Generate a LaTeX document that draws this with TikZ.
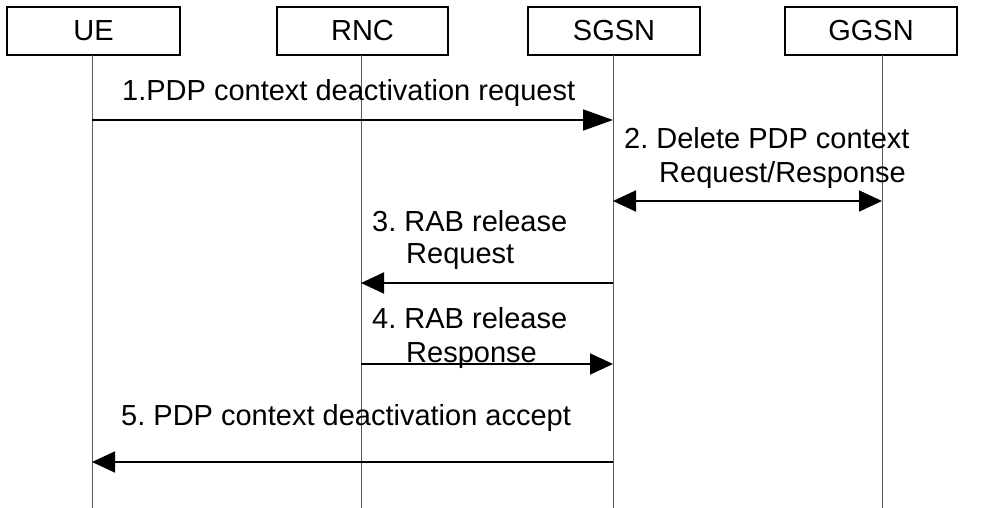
\documentclass[tikz,border=0pt]{standalone}
\usepackage{fontspec}
\setmainfont{Liberation Sans}
\usetikzlibrary{arrows.meta}
\frenchspacing
\begin{document}
\begin{tikzpicture}[x=1pt,y=-1pt,
  ent/.style={draw,line width=1.3pt,minimum height=48pt,inner sep=0pt,font=\fontsize{29}{34}\selectfont},
  life/.style={draw=black!65,line width=0.9pt},
  msg/.style={line width=1.8pt,-{Triangle[length=23pt,width=21pt]}},
  msgb/.style={line width=1.8pt,{Triangle[length=23pt,width=21pt]}-{Triangle[length=23pt,width=21pt]}},
  lbl/.style={anchor=base west,inner sep=0pt,font=\fontsize{29}{34}\selectfont}]
\useasboundingbox (0,0) rectangle (1005,508);
% entities
\node[ent,minimum width=173pt] (ue) at (93.5,31) {UE};
\node[ent,minimum width=171pt] (rnc) at (362.5,31) {RNC};
\node[ent,minimum width=172pt] (sgsn) at (614,31) {SGSN};
\node[ent,minimum width=172pt] (ggsn) at (871,31) {GGSN};
% lifelines
\coordinate (ueT) at (92,55);   \coordinate (ueB) at (92,508);
\coordinate (rncT) at (361,55); \coordinate (rncB) at (361,508);
\coordinate (sgT) at (613,55);  \coordinate (sgB) at (613,508);
\coordinate (ggT) at (882,55);  \coordinate (ggB) at (882,508);
\draw[life] (ueT) -- (ueB);
\draw[life] (rncT) -- (rncB);
\draw[life] (sgT) -- (sgB);
\draw[life] (ggT) -- (ggB);
% message points
\coordinate (m1a) at (92,120);  \coordinate (m1b) at (613,120);
\coordinate (m2a) at (613,201); \coordinate (m2b) at (882,201);
\coordinate (m3a) at (613,283); \coordinate (m3b) at (361,283);
\coordinate (m4a) at (361,364); \coordinate (m4b) at (613,364);
\coordinate (m5a) at (613,462); \coordinate (m5b) at (92,462);
% messages
\draw[line width=1.8pt,-{Triangle[length=30pt,width=21pt]}] (m1a) -- (m1b);
\draw[msgb] (m2a) -- (m2b);
\draw[msg] (m3a) -- (m3b);
\draw[msg] (m4a) -- (m4b);
\draw[msg] (m5a) -- (m5b);
% labels
\node[lbl] (l1) at (122,101) {1.PDP context deactivation request};
\node[lbl] (l2a) at (624,149) {2. Delete PDP context};
\node[lbl] (l2b) at (659,183) {Request/Response};
\node[lbl] (l3a) at (372,232) {3. RAB release};
\node[lbl] (l3b) at (406,263) {Request};
\node[lbl] (l4a) at (372,328) {4. RAB release};
\node[lbl] (l4b) at (406,362) {Response};
\node[lbl] (l5) at (121,425) {5. PDP context deactivation accept};
\end{tikzpicture}
\end{document}
